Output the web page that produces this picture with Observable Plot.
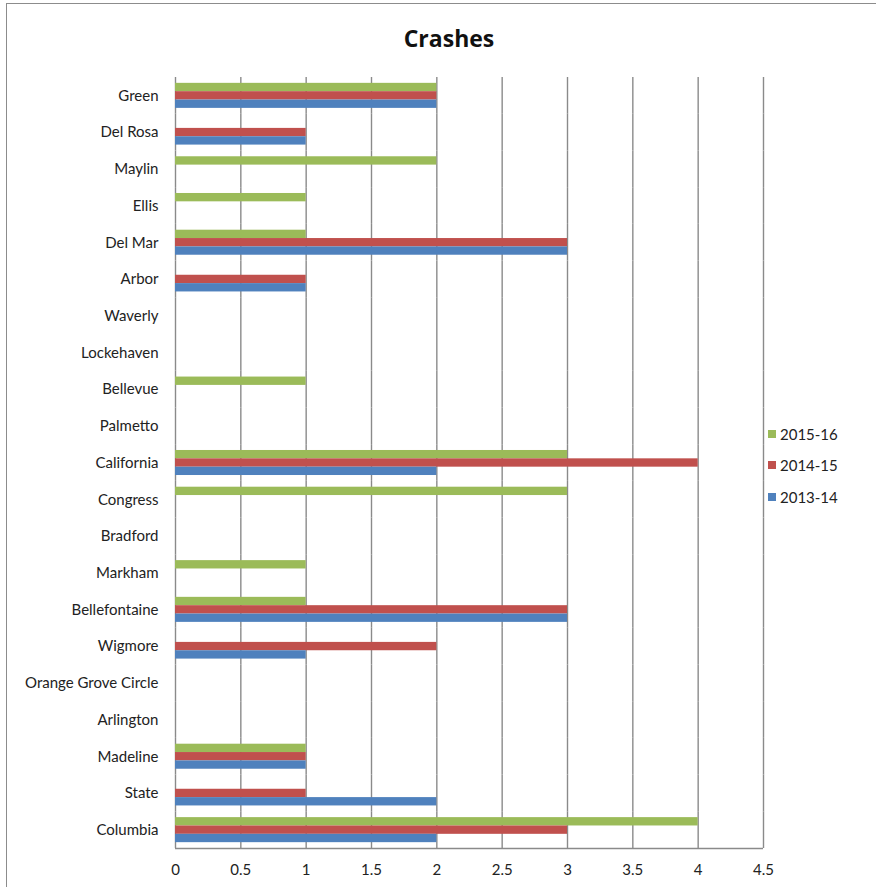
<!DOCTYPE html>
<html><head><meta charset="utf-8">
<script src="https://cdn.jsdelivr.net/npm/d3@7"></script>
<script src="https://cdn.jsdelivr.net/npm/@observablehq/plot@0.6"></script>
<style>
body{margin:0;background:#fff;overflow:hidden;font-family:Lato,sans-serif;}
#wrap{position:relative;width:876px;height:887px;overflow:hidden;}
#border{position:absolute;left:6px;top:3px;width:900px;height:900px;border:1.5px solid #8c8c8c;box-sizing:border-box;}
#title{position:absolute;left:0;width:898px;top:22px;text-align:center;font-weight:bold;font-size:23px;color:#111;font-family:"Open Sans",sans-serif;}
#chart{position:absolute;left:0;top:0;}
#legend{position:absolute;left:768px;top:418px;font-size:15px;color:#222;}
#legend div{height:31.5px;display:flex;align-items:center;}
#legend span.sw{display:inline-block;width:8px;height:8px;margin-right:4px;}
</style></head>
<body>
<div id="wrap">
  <div id="border"></div>
  <div id="chart"></div>
  <div id="title">Crashes</div>
  <div id="legend"></div>
</div>
<script>
const categories = ["Green","Del Rosa","Maylin","Ellis","Del Mar","Arbor","Waverly","Lockehaven","Bellevue","Palmetto","California","Congress","Bradford","Markham","Bellefontaine","Wigmore","Orange Grove Circle","Arlington","Madeline","State","Columbia"];
const series = ["2015-16","2014-15","2013-14"];
const v2015_16 = [2,0,2,1,1,0,0,0,1,0,3,3,0,1,1,0,0,0,1,0,4];
const v2014_15 = [2,1,0,0,3,1,0,0,0,0,4,0,0,0,3,2,0,0,1,1,3];
const v2013_14 = [2,1,0,0,3,1,0,0,0,0,2,0,0,0,3,1,0,0,1,2,2];
const colors = ["#9BBB59","#C0504D","#4F81BD"];
const xTicks = [0,0.5,1,1.5,2,2.5,3,3.5,4,4.5];

const valuesBySeries = {"2015-16": v2015_16, "2014-15": v2014_15, "2013-14": v2013_14};
const rows = categories.flatMap((c, i) => series.map(s => ({cat: c, s, v: valuesBySeries[s][i]})));
const lastCat = categories[categories.length - 1];

const chart = Plot.plot({
  width: 876, height: 887,
  marginTop: 77, marginBottom: 39, marginLeft: 175, marginRight: 113,
  style: {fontFamily: "Lato", fontSize: "15px", color: "#222", background: "transparent"},
  fy: {domain: categories, padding: 0, round: false, label: null, tickSize: 0, tickPadding: 17},
  y: {domain: series, axis: null, paddingInner: 0, paddingOuter: 0.7, round: false},
  x: {domain: [0, 4.5], ticks: xTicks, tickFormat: d => String(d), tickSize: 0, tickPadding: 16, label: null},
  color: {domain: series, range: colors},
  marks: [
    Plot.ruleX(xTicks, {stroke: "#8a8a8a", strokeWidth: 1.4}),
    Plot.ruleY([{cat: lastCat, s: series[2]}], {fy: "cat", y: "s", x1: 0, x2: 4.5, dy: 10, stroke: "#8a8a8a", strokeWidth: 1.4}),
    Plot.barX(rows, {fy: "cat", y: "s", x: "v", fill: "s"})
  ]
});
document.getElementById("chart").appendChild(chart);

const legend = document.getElementById("legend");
series.forEach((s, i) => {
  const row = document.createElement("div");
  row.innerHTML = `<span class="sw" style="background:${colors[i]}"></span>${s}`;
  legend.appendChild(row);
});
</script>
</body></html>
